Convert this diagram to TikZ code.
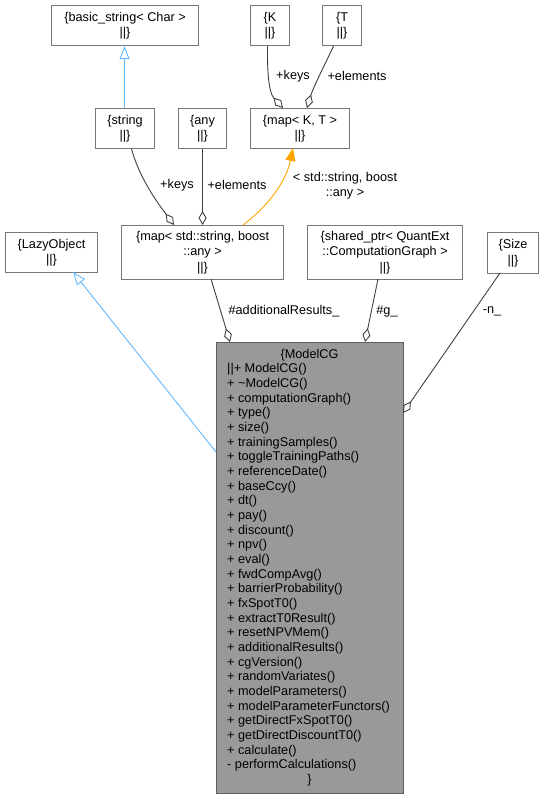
\documentclass[tikz,border=0pt]{standalone}
\usepackage{fontspec}
\setmainfont{Liberation Sans}
\usetikzlibrary{arrows.meta}
\definecolor{edgegray}{HTML}{404040}
\definecolor{boxgray}{HTML}{777777}
\definecolor{hlfill}{HTML}{999999}
\definecolor{inhblue}{HTML}{63B8FF}
\definecolor{tplorange}{HTML}{FFA500}
\tikzset{
  every node/.style={font=\fontsize{12.7}{15.5}\selectfont, inner sep=0pt},
  cls/.style={draw=boxgray, line width=1.1pt, fill=white, align=center, anchor=north west},
  member/.style={draw=edgegray, line width=0.9pt, -{Diamond[open, length=14pt, width=8pt]}},
  inherit/.style={draw=inhblue, line width=0.9pt, -{Triangle[open, length=13pt, width=10pt]}},
  tplinst/.style={draw=tplorange, line width=0.9pt, -{Triangle[length=13pt, width=10pt, fill=tplorange]}},
  lbl/.style={align=center, text=black},
  mline/.style={anchor=west, text=black}
}
\begin{document}
\begin{tikzpicture}[x=1pt, y=-1pt]
\useasboundingbox (0,0) rectangle (544,799);

% boxes
\node[cls, minimum width=147pt, minimum height=40pt] (bstr) at (51,5) {\{basic\_string< Char >\\||\}};
\node[cls, minimum width=39pt, minimum height=40pt] (K) at (250,5) {\{K\\||\}};
\node[cls, minimum width=39pt, minimum height=40pt] (T) at (322,5) {\{T\\||\}};
\node[cls, minimum width=59pt, minimum height=40pt] (str) at (95,108) {\{string\\||\}};
\node[cls, minimum width=48pt, minimum height=40pt] (any) at (178,108) {\{any\\||\}};
\node[cls, minimum width=99pt, minimum height=40pt] (mapKT) at (250,108) {\{map< K, T >\\||\}};
\node[cls, minimum width=162pt, minimum height=54pt] (mapSA) at (121,225) {\{map< std::string, boost\\::any >\\||\}};
\node[cls, minimum width=155pt, minimum height=54pt] (sptr) at (307,225) {\{shared\_ptr< QuantExt\\::ComputationGraph >\\||\}};
\node[cls, minimum width=51pt, minimum height=41pt] (size) at (487,232) {\{Size\\||\}};
\node[cls, minimum width=92pt, minimum height=40pt] (lazy) at (5,232) {\{LazyObject\\||\}};
\node[cls, fill=hlfill, draw=boxgray!80!black, minimum width=187pt, minimum height=451pt] (mcg) at (216,342) {};

% ModelCG text
\node[lbl] (mcgtitle) at (309.5,355) {\{ModelCG};
\foreach \t [count=\i] in {{||+ ModelCG()},{+ \textasciitilde ModelCG()},{+ computationGraph()},{+ type()},{+ size()},{+ trainingSamples()},{+ toggleTrainingPaths()},{+ referenceDate()},{+ baseCcy()},{+ dt()},{+ pay()},{+ discount()},{+ npv()},{+ eval()},{+ fwdCompAvg()},{+ barrierProbability()},{+ fxSpotT0()},{+ extractT0Result()},{+ resetNPVMem()},{+ additionalResults()},{+ cgVersion()},{+ randomVariates()},{+ modelParameters()},{+ modelParameterFunctors()},{+ getDirectFxSpotT0()},{+ getDirectDiscountT0()},{+ calculate()},{- performCalculations()}}
  \node[mline] (m\i) at (227,{355+14.66*\i}) {\t};
\node[lbl] (mcgend) at (309.5,{355+14.66*29}) {\}};

% inheritance
\draw[inherit] ([xshift=-0.5pt]str.north) -- ([xshift=-0.5pt]str.north |- bstr.south);
\draw[inherit] (mcg.west |- 0,452) -- (73,272);

% template instance
\draw[tplinst] (243,225) .. controls (268,206) and (286,182) .. (293,148);

% members
\draw[member] ([xshift=-2.5pt]K.south) .. controls (267,85) and (271,95) .. (283,108);
\draw[member] ([xshift=-8.5pt]T.south) .. controls (326,62) and (313,88) .. (307,108);
\draw[member] ([xshift=6.5pt]str.south) .. controls (140,180) and (160,206) .. (174,225);
\draw[member] (any.south) -- (any.south |- mapSA.north);
\draw[member] (211,279) -- (230,342);
\draw[member] (378,279) -- (365,342);
\draw[member] (500,273) -- (403,413);

% labels
\node[lbl] (l1) at (293,76) {+keys};
\node[lbl] (l2) at (357,76) {+elements};
\node[lbl] (l3) at (177,185) {+keys};
\node[lbl] (l4) at (237,185) {+elements};
\node[lbl] (l5) at (345,185.5) {< std::string, boost\\::any >};
\node[lbl] (l6) at (284,311) {\#additionalResults\_};
\node[lbl] (l7) at (387,311) {\#g\_};
\node[lbl] (l8) at (492,311) {-n\_};
\end{tikzpicture}
\end{document}
